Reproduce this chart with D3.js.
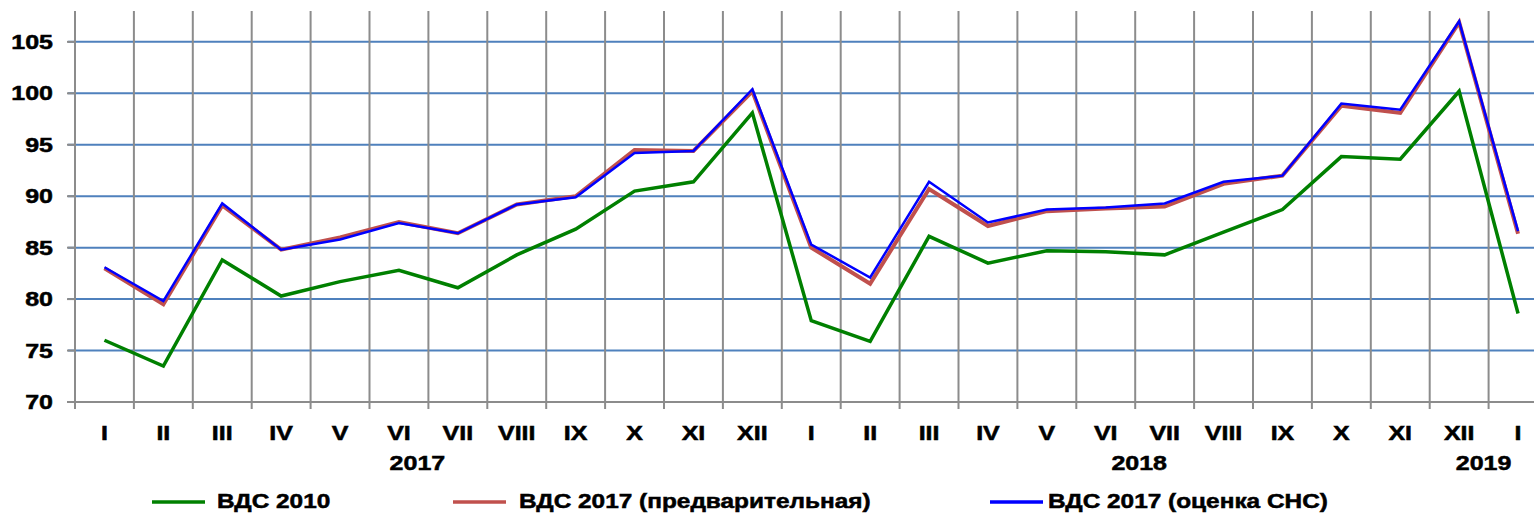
<!DOCTYPE html>
<html>
<head>
<meta charset="utf-8">
<script src="https://cdn.jsdelivr.net/npm/d3@7"></script>
<style>
  body { margin: 0; background: #fff; }
  svg { display: block; font-family: "Liberation Sans", Arial, sans-serif; font-weight: bold; }
  text { fill: #000; stroke: #000; stroke-width: 0.5px; }
</style>
</head>
<body>
<div id="chart"></div>
<script>
// months (two years + January)
const months = ["I","II","III","IV","V","VI","VII","VIII","IX","X","XI","XII",
                "I","II","III","IV","V","VI","VII","VIII","IX","X","XI","XII","I"];
const years = [
  { label: "2017", after: 5 },
  { label: "2018", after: 17 },
  { label: "2019", after: 23 }
];
const yTicks = [70, 75, 80, 85, 90, 95, 100, 105];

const vds2010 = [76.0, 73.5, 83.8, 80.3, 81.7, 82.8, 81.1, 84.3, 86.8, 90.5, 91.4, 98.1,
                 77.9, 75.9, 86.1, 83.5, 84.7, 84.6, 84.3, 86.5, 88.7, 93.85, 93.6, 100.2, 78.6];
const vds2017pre = [83.0, 79.5, 89.1, 84.8, 86.0, 87.5, 86.4, 89.2, 90.0, 94.5, 94.4, 100.2,
                    85.0, 81.5, 90.7, 87.1, 88.55, 88.8, 89.0, 91.2, 92.0, 98.8, 98.1, 106.9, 86.35];
const vds2017sns = [83.1, 79.8, 89.3, 84.8, 85.8, 87.4, 86.4, 89.2, 89.9, 94.2, 94.4, 100.4,
                    85.3, 82.1, 91.4, 87.45, 88.7, 88.9, 89.3, 91.4, 92.0, 99.0, 98.4, 107.0, 86.6];

const series = [
  { name: "ВДС 2010", values: vds2010, color: "#008000", width: 3.5 },
  { name: "ВДС 2017 (предварительная)", values: vds2017pre, color: "#c0504d", width: 4 },
  { name: "ВДС 2017 (оценка СНС)", values: vds2017sns, color: "#0000ff", width: 2.5 }
];
// legend placement (line start, text start)
const legendPos = [[152, 217], [453, 519], [990, 1048]];
const yearNudge = [-11, 4, -5];

const W = 1534, H = 515;
const stretch = 1.25; // text in the picture is widened
const svg = d3.select("#chart").append("svg").attr("width", W).attr("height", H);

const x = d3.scaleBand().domain(d3.range(months.length)).range([75, 75 + 58.9 * months.length]).padding(0);
const y = d3.scaleLinear().domain([70, 108]).range([402, 11]);

// horizontal grid
svg.append("g").selectAll("line")
  .data(yTicks.filter(t => t > 70))
  .enter().append("line")
  .attr("x1", 68).attr("x2", W)
  .attr("y1", d => y(d)).attr("y2", d => y(d))
  .style("stroke", "#4f81bd").style("stroke-width", 2);

// vertical grid at category boundaries
const bounds = d3.range(months.length + 1).map(i => x.range()[0] + i * x.step());
svg.append("g").selectAll("line")
  .data(bounds)
  .enter().append("line")
  .attr("x1", d => d).attr("x2", d => d)
  .attr("y1", y(108)).attr("y2", y(70) + 7)
  .style("stroke", "#8c8c8c").style("stroke-width", 2);

// x axis line + y ticks
svg.append("line").attr("x1", 68).attr("x2", W).attr("y1", y(70)).attr("y2", y(70))
  .style("stroke", "#8c8c8c").style("stroke-width", 2);
svg.append("g").selectAll("line")
  .data(yTicks)
  .enter().append("line")
  .attr("x1", 67).attr("x2", 75)
  .attr("y1", d => y(d)).attr("y2", d => y(d))
  .style("stroke", "#8c8c8c").style("stroke-width", 2);

function stretchedText(g, tx, ty, txt, anchor, sx) {
  return g.append("g")
    .attr("transform", `translate(${tx},${ty}) scale(${sx || stretch},1)`)
    .append("text")
    .attr("text-anchor", anchor)
    .style("font-size", "20px")
    .text(txt);
}

// y labels
const yl = svg.append("g");
yTicks.forEach(t => stretchedText(yl, 53, y(t) + 7, t, "end"));

// x labels
const xl = svg.append("g");
months.forEach((m, i) => stretchedText(xl, x(i) + x.bandwidth() / 2, 440, m, "middle"));
years.forEach((yr, k) => stretchedText(xl, x(yr.after) + x.step() + yearNudge[k], 470, yr.label, "middle"));

// lines
const line = d3.line()
  .x((d, i) => x(i) + x.bandwidth() / 2)
  .y(d => y(d));

series.forEach(s => {
  svg.append("path")
    .datum(s.values)
    .attr("d", line)
    .attr("fill", "none")
    .attr("stroke", s.color)
    .attr("stroke-width", s.width)
    .attr("stroke-linejoin", "miter");
});

// legend
const lg = svg.append("g");
series.forEach((s, k) => {
  const [lx, tx] = legendPos[k];
  lg.append("line")
    .attr("x1", lx).attr("x2", lx + 53)
    .attr("y1", 502).attr("y2", 502)
    .style("stroke", s.color).style("stroke-width", 3.5);
  stretchedText(lg, tx, 508, s.name, "start", 1.22);
});
</script>
</body>
</html>
